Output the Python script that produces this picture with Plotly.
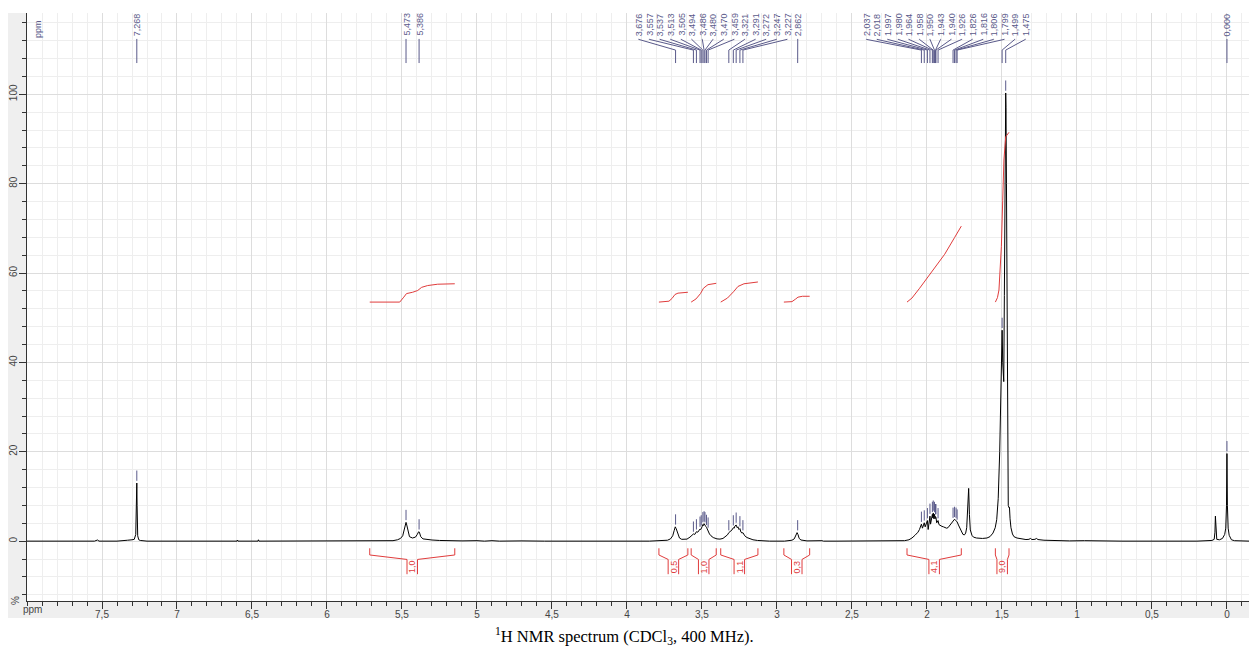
import plotly.graph_objects as go
import numpy as np

# ---------------- data ----------------
spec_ppm = [8.00, 7.55, 7.53, 7.52, 7.40, 7.37, 7.33, 7.30, 7.285, 7.275, 7.270, 7.268, 7.266, 7.262, 7.255, 7.245, 7.20,
            6.60, 6.597, 6.594, 6.46, 6.457, 6.454,
            5.60, 5.56, 5.53, 5.51, 5.495, 5.485, 5.477, 5.473, 5.468, 5.46, 5.45, 5.43, 5.41, 5.398, 5.389, 5.384, 5.375,
            5.36, 5.34, 5.30, 5.25, 5.20, 5.10, 5.00, 4.95, 4.90, 4.85, 4.70, 4.60, 4.55,
            3.85, 3.80, 3.76, 3.73, 3.71, 3.695, 3.685, 3.678, 3.672, 3.662, 3.65, 3.635, 3.62, 3.60, 3.58, 3.565,
            3.557, 3.548, 3.537, 3.528, 3.513, 3.508, 3.505, 3.498, 3.494, 3.490, 3.486, 3.483, 3.480, 3.475, 3.470,
            3.463, 3.459, 3.45, 3.44, 3.425, 3.40, 3.38, 3.36, 3.345, 3.33, 3.321, 3.31, 3.30, 3.291, 3.285, 3.280,
            3.272, 3.265, 3.260, 3.253, 3.247, 3.240, 3.233, 3.227, 3.215, 3.20, 3.18, 3.16, 3.13, 3.10, 3.05,
            2.95, 2.93, 2.90, 2.885, 2.872, 2.866, 2.860, 2.852, 2.84, 2.82, 2.80, 2.70, 2.69, 2.60,
            2.25, 2.20, 2.15, 2.12, 2.10, 2.08, 2.06, 2.05, 2.044, 2.037, 2.03, 2.024, 2.018, 2.012, 2.004, 1.997,
            1.992, 1.988, 1.980, 1.976, 1.970, 1.964, 1.961, 1.958, 1.954, 1.950, 1.946, 1.943, 1.940, 1.935, 1.930,
            1.926, 1.92, 1.91, 1.90, 1.89, 1.88, 1.87, 1.86, 1.85, 1.84, 1.830, 1.826, 1.820, 1.816, 1.810, 1.806,
            1.799, 1.79, 1.78, 1.77, 1.76, 1.75, 1.742, 1.735, 1.728, 1.722, 1.717, 1.711, 1.70, 1.69, 1.67, 1.65,
            1.63, 1.60, 1.58, 1.56, 1.545, 1.535, 1.525, 1.515, 1.507, 1.502, 1.499, 1.495, 1.491, 1.488, 1.484,
            1.479, 1.477, 1.475, 1.473, 1.470, 1.466, 1.462, 1.458, 1.453, 1.450, 1.446, 1.44, 1.43, 1.42, 1.40,
            1.37, 1.34, 1.32, 1.31, 1.30, 1.28, 1.27, 1.26, 1.22, 1.15, 1.05, 0.95, 0.90, 0.80, 0.70,
            0.20, 0.16, 0.14, 0.10, 0.085, 0.080, 0.077, 0.074, 0.068, 0.05, 0.03, 0.015, 0.008, 0.003, 0.000,
            -0.003, -0.008, -0.015, -0.03, -0.05, -0.15]
spec_int = [0, 0, 0.25, 0, 0, 0.15, 0.2, 0.3, 0.4, 1.5, 8.0, 13.0, 8.0, 1.2, 0.3, 0.15, 0,
            0, 0.25, 0, 0, 0.3, 0,
            0, 0.1, 0.3, 0.6, 1.2, 2.6, 4.0, 4.2, 3.6, 2.0, 1.0, 0.7, 0.9, 1.5, 2.1, 2.0, 1.0,
            0.5, 0.4, 0.25, 0.15, 0.1, 0.05, 0.1, 0, 0.1, 0, 0.05, 0.1, 0,
            0, 0.1, 0.1, 0.2, 0.5, 1.2, 2.4, 3.2, 2.8, 1.6, 0.7, 0.4, 0.35, 0.45, 0.9, 1.3,
            1.6, 1.5, 2.1, 2.0, 2.7, 2.6, 3.0, 3.3, 3.7, 3.5, 3.9, 3.6, 3.7, 3.3, 3.1,
            2.5, 2.4, 1.6, 1.2, 0.8, 0.5, 0.45, 0.6, 1.0, 1.4, 1.9, 2.2, 2.5, 3.0, 2.9, 3.4,
            3.6, 3.0, 3.2, 2.6, 2.8, 2.0, 1.8, 1.9, 1.2, 0.8, 0.5, 0.3, 0.15, 0.05, 0,
            0, 0.1, 0.2, 0.5, 1.3, 1.9, 1.5, 0.6, 0.25, 0.1, 0.05, 0.1, 0.0, 0,
            0, 0.05, 0.1, 0.3, 0.7, 1.3, 2.0, 2.6, 3.2, 3.8, 2.9, 3.5, 4.1, 3.2, 3.9, 4.6,
            2.6, 4.2, 5.6, 3.8, 4.8, 6.0, 5.2, 6.3, 5.0, 6.0, 5.0, 5.5, 5.3, 4.1, 4.4,
            4.6, 3.7, 3.4, 3.3, 3.2, 3.1, 2.9, 3.0, 3.5, 4.0, 4.5, 4.7, 4.8, 4.9, 4.7, 4.6,
            4.3, 3.6, 2.8, 2.0, 1.5, 1.4, 1.8, 3.0, 6.5, 11.8, 6.0, 2.5, 1.3, 0.9, 0.7, 0.6,
            0.6, 0.7, 1.0, 1.8, 3.0, 4.8, 9.5, 20.0, 38.0, 46.0, 47.2, 40.0, 36.0, 35.7, 55.0,
            88.0, 98.0, 100.3, 97.0, 80.0, 40.0, 15.0, 8.0, 7.5, 7.6, 5.0, 3.0, 1.6, 1.0, 0.7,
            0.45, 0.35, 0.4, 0.6, 0.35, 0.4, 0.6, 0.35, 0.2, 0.1, 0.05, 0.1, 0.05, 0.08, 0,
            0, 0.1, 0.05, 0.15, 0.4, 2.0, 5.6, 2.0, 0.4, 0.3, 0.6, 1.5, 2.9, 8.0, 19.6,
            8.0, 2.9, 1.3, 0.3, 0.1, 0]

# labelled peaks (ppm), in groups
peak_groups = [
    [7.268],
    [5.473, 5.386],
    [3.676, 3.557, 3.537, 3.513, 3.505, 3.494, 3.486, 3.480, 3.470, 3.459,
     3.321, 3.291, 3.272, 3.247, 3.227, 2.862],
    [2.037, 2.018, 1.997, 1.980, 1.964, 1.958, 1.950, 1.943, 1.940, 1.926,
     1.826, 1.816, 1.806, 1.799, 1.499, 1.475],
    [0.000],
]

# integrals: region start/end (ppm), value, and curve points
int_start = [5.715, 3.787, 3.572, 3.375, 2.954, 2.133, 1.544]
int_end = [5.148, 3.594, 3.405, 3.127, 2.782, 1.771, 1.453]
int_value = ["1,0", "0,5", "1,0", "1,1", "0,3", "4,1", "9,0"]
int_curve_ppm = [
    [5.715, 5.515, 5.488, 5.470, 5.429, 5.395, 5.369, 5.329, 5.262, 5.148],
    [3.787, 3.72, 3.70, 3.68, 3.66, 3.62, 3.594],
    [3.572, 3.54, 3.51, 3.49, 3.46, 3.43, 3.405],
    [3.375, 3.33, 3.29, 3.26, 3.22, 3.17, 3.127],
    [2.954, 2.90, 2.875, 2.86, 2.83, 2.782],
    [2.133, 2.10, 2.049, 2.00, 1.949, 1.90, 1.882, 1.815, 1.771],
    [1.544, 1.530, 1.520, 1.504, 1.495, 1.487, 1.475, 1.462, 1.453],
]
int_curve_val = [
    [53.5, 53.5, 54.6, 55.4, 55.7, 56.1, 56.8, 57.2, 57.5, 57.6],
    [53.5, 53.7, 54.3, 55.2, 55.5, 55.6, 55.7],
    [53.5, 54.2, 55.4, 56.6, 57.4, 57.6, 57.7],
    [53.5, 54.4, 55.8, 57.0, 57.6, 57.9, 58.0],
    [53.5, 53.6, 54.2, 54.6, 54.8, 54.8],
    [53.5, 54.4, 56.6, 58.8, 61.1, 63.3, 64.2, 68.0, 70.5],
    [53.5, 54.5, 56.2, 65.9, 76.3, 85.3, 90.5, 91.2, 91.5],
]

x_major = [7.5, 7, 6.5, 6, 5.5, 5, 4.5, 4, 3.5, 3, 2.5, 2, 1.5, 1, 0.5, 0]
y_major = [0, 20, 40, 60, 80, 100]

# ---------------- style ----------------
LBL = "#5a5a8a"
RED = "#e03c3c"
GRAY_BG = "#efefef"
X_RANGE = [8.0, -0.147]
Y_RANGE = [-13.4, 118.2]
LABEL_SPACING = 0.0707
group_label_start = {2: 3.922, 3: 2.404}
FONT = "Liberation Sans, Arial"

def px_x(px):  # pixel -> paper x
    return (px - 27) / 1222

def px_y(py):  # pixel -> paper y
    return (601 - py) / 588

fig = go.Figure()

# spectrum
fig.add_trace(go.Scatter(x=spec_ppm, y=spec_int, mode="lines",
                         line=dict(color="black", width=1), hoverinfo="skip"))

# integral curves
for px, pv in zip(int_curve_ppm, int_curve_val):
    fig.add_trace(go.Scatter(x=px, y=pv, mode="lines",
                             line=dict(color=RED, width=1), hoverinfo="skip"))

# integral brackets
bx, by = [], []
w = 0.035
for s, e in zip(int_start, int_end):
    c = (s + e) / 2
    bx += [s, s, c + w, c + w, None, c - w, c - w, e, e, None]
    by += [-1.6, -3.1, -4.1, -7.4, None, -7.4, -4.1, -3.1, -1.6, None]
fig.add_trace(go.Scatter(x=bx, y=by, mode="lines", line=dict(color=RED, width=1),
                         hoverinfo="skip"))

annotations = []
for s, e, v in zip(int_start, int_end, int_value):
    c = (s + e) / 2
    annotations.append(dict(x=c, y=-5.75, xref="x", yref="y", text=v, textangle=-90,
                            xanchor="center", yanchor="middle",
                            showarrow=False, font=dict(size=9, color=RED, family=FONT)))

# peak labels & connectors & markers
sp = np.array(spec_ppm)[::-1]
si = np.array(spec_int)[::-1]
lx, ly = [], []
mx, my = [], []
for gi, grp in enumerate(peak_groups):
    for i, p in enumerate(grp):
        if gi in group_label_start:
            lab_x = group_label_start[gi] - i * LABEL_SPACING
            lx += [p, p, lab_x, lab_x, None]
            ly += [107.0, 109.9, 112.3, 112.4, None]
        else:
            lab_x = p
            lx += [p, p, None]
            ly += [107.0, 112.4, None]
        annotations.append(dict(x=lab_x, y=112.6, xref="x", yref="y",
                                text=f"{p:.3f}".replace(".", ","), textangle=-90,
                                xanchor="center", yanchor="bottom", showarrow=False,
                                font=dict(size=9, color=LBL, family=FONT)))
        mask = (sp >= p - 0.004) & (sp <= p + 0.004)
        h = si[mask].max() if mask.any() else float(np.interp(p, sp, si))
        h = max(h, float(np.interp(p, sp, si)))
        mx += [p, p, None]
        my += [h + 0.5, h + 2.8, None]

fig.add_trace(go.Scatter(x=lx, y=ly, mode="lines", line=dict(color=LBL, width=1),
                         hoverinfo="skip"))
fig.add_trace(go.Scatter(x=mx, y=my, mode="lines", line=dict(color=LBL, width=1),
                         hoverinfo="skip"))

# other texts
annotations += [
    dict(x=px_x(38), y=px_y(29), xref="paper", yref="paper", text="ppm", textangle=-90,
         xanchor="center", yanchor="middle",
         showarrow=False, font=dict(size=9, color=LBL, family=FONT)),
    dict(x=px_x(32), y=px_y(609), xref="paper", yref="paper", text="ppm",
         xanchor="center", yanchor="middle",
         showarrow=False, font=dict(size=10, color="#444", family=FONT)),
    dict(x=px_x(15), y=px_y(601), xref="paper", yref="paper", text="%", textangle=-90,
         xanchor="center", yanchor="middle",
         showarrow=False, font=dict(size=10, color="#444", family=FONT)),
    dict(x=px_x(624), y=px_y(636), xref="paper", yref="paper",
         text="<sup>1</sup>H NMR spectrum (CDCl<sub>3</sub>, 400 MHz).",
         xanchor="center", yanchor="middle",
         showarrow=False, font=dict(size=16.5, color="black", family="Liberation Serif, Times New Roman")),
]

shapes = [
    dict(type="rect", xref="paper", yref="paper", x0=px_x(8), x1=0,
         y0=px_y(618), y1=1, fillcolor=GRAY_BG, line=dict(width=0), layer="below"),
    dict(type="rect", xref="paper", yref="paper", x0=px_x(8), x1=1,
         y0=px_y(618), y1=0, fillcolor=GRAY_BG, line=dict(width=0), layer="below"),
]

fig.update_layout(
    width=1249, height=655,
    margin=dict(l=27, r=0, t=13, b=54),
    paper_bgcolor="white", plot_bgcolor="white",
    showlegend=False, separators=",.",
    annotations=annotations, shapes=shapes,
    font=dict(family=FONT, size=10, color="#444"),
)
fig.update_xaxes(range=X_RANGE, tickmode="array", tickvals=x_major,
                 ticks="outside", ticklen=7, tickcolor="#333", tickwidth=1,
                 showline=True, linecolor="#333", linewidth=1,
                 showgrid=True, gridcolor="#dddddd", gridwidth=1, zeroline=False,
                 tickfont=dict(size=10, color="#444"), ticklabelstandoff=-3,
                 minor=dict(dtick=0.1, tick0=0, ticks="outside", ticklen=4, tickcolor="#333",
                            showgrid=True, gridcolor="#eeeeee"))
fig.update_yaxes(range=Y_RANGE, tickmode="array", tickvals=y_major, tickangle=-90,
                 ticks="outside", ticklen=7, tickcolor="#333", tickwidth=1,
                 showline=True, linecolor="#333", linewidth=1,
                 showgrid=True, gridcolor="#dddddd", gridwidth=1, zeroline=False,
                 tickfont=dict(size=10, color="#444"), ticklabelstandoff=-2,
                 minor=dict(dtick=4, tick0=0, ticks="outside", ticklen=4, tickcolor="#333",
                            showgrid=True, gridcolor="#eeeeee"))

fig.write_html("out.html")
